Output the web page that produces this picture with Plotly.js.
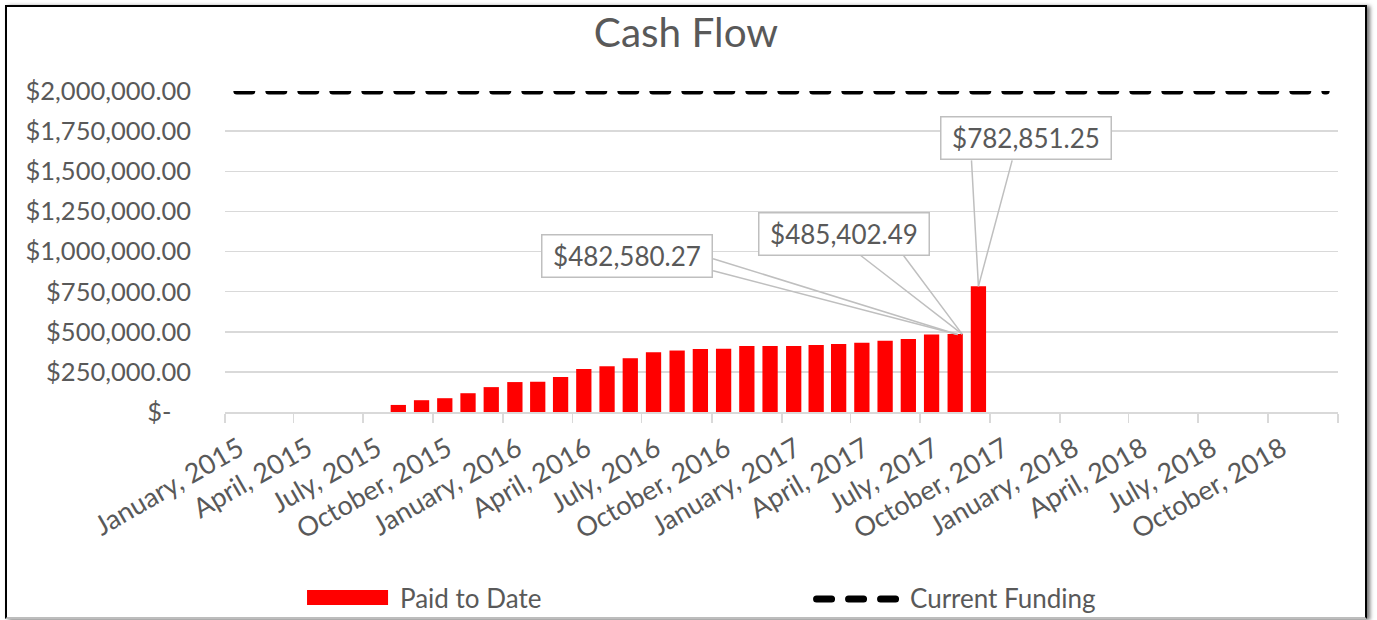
<!DOCTYPE html>
<html>
<head>
<meta charset="utf-8">
<script src="https://cdn.plot.ly/plotly-3.0.1.min.js"></script>
<style>
  html, body { margin: 0; padding: 0; background: #fff; overflow: hidden; }
  #wrap {
    position: absolute; left: 5px; top: 5px;
    width: 1358px; height: 610px;
    border-left: 2px solid #000; border-top: 2px solid #000; border-right: 2px solid #000;
    border-bottom: 2px solid #bdbdbd;
    box-shadow: 3px 1px 4px rgba(0,0,0,0.55);
    background: #fff;
  }
  #chart { width: 1358px; height: 610px; }
  .scatterlayer .js-line { stroke-linecap: round !important; }
  .shapelayer path { stroke-linecap: round !important; }
</style>
</head>
<body>
<div id="wrap"><div id="chart"></div></div>
<script>
// ---- data ----
const months = [
  "2015-08","2015-09","2015-10","2015-11","2015-12",
  "2016-01","2016-02","2016-03","2016-04","2016-05","2016-06",
  "2016-07","2016-08","2016-09","2016-10","2016-11","2016-12",
  "2017-01","2017-02","2017-03","2017-04","2017-05","2017-06",
  "2017-07","2017-08","2017-09"
];
const paidToDate = [
  44000, 73500, 86000, 117000, 155000,
  186500, 188500, 218000, 268000, 285000, 335000,
  373000, 383000, 392000, 394000, 411000, 411000,
  411000, 417000, 423000, 431000, 444000, 455000,
  482580.27, 485402.49, 782851.25
];
const fundingMonths = ["2015-01", "2018-12"];
const currentFunding = [2000000, 2000000];
const labelledMonths = ["2017-07", "2017-08", "2017-09"];

const xTickVals = [
  "2015-01-01","2015-04-01","2015-07-01","2015-10-01",
  "2016-01-01","2016-04-01","2016-07-01","2016-10-01",
  "2017-01-01","2017-04-01","2017-07-01","2017-10-01",
  "2018-01-01","2018-04-01","2018-07-01","2018-10-01","2019-01-01"
];
const xTickText = [
  "January, 2015","April, 2015","July, 2015","October, 2015",
  "January, 2016","April, 2016","July, 2016","October, 2016",
  "January, 2017","April, 2017","July, 2017","October, 2017",
  "January, 2018","April, 2018","July, 2018","October, 2018",""
];
const yTickVals = [0, 250000, 500000, 750000, 1000000, 1250000, 1500000, 1750000, 2000000];
const yTickText = [
  "$-\u00a0\u00a0\u00a0", "$250,000.00", "$500,000.00", "$750,000.00", "$1,000,000.00",
  "$1,250,000.00", "$1,500,000.00", "$1,750,000.00", "$2,000,000.00"
];

// ---- helpers ----
const FONT = "Lato, 'Open Sans', sans-serif";
const TXT = "#595959";
function midMonth(m) {
  const [y, mo] = m.split("-").map(Number);
  const a = Date.UTC(y, mo - 1, 1), b = Date.UTC(y, mo, 1);
  const d = new Date((a + b) / 2);
  const p = n => String(n).padStart(2, "0");
  return d.getUTCFullYear() + "-" + p(d.getUTCMonth() + 1) + "-" + p(d.getUTCDate()) +
    " " + p(d.getUTCHours()) + ":00:00";
}
function money(v) {
  return "$" + v.toLocaleString("en-US", {minimumFractionDigits: 2, maximumFractionDigits: 2});
}

const traces = [
  {
    type: "bar", name: "Paid to Date", x: months, y: paidToDate,
    xperiod: "M1", xperiodalignment: "middle",
    marker: {color: "#ff0000"}, hoverinfo: "x+y", showlegend: false
  },
  {
    type: "scatter", mode: "lines", name: "Current Funding",
    x: fundingMonths, y: currentFunding,
    xperiod: "M1", xperiodalignment: "middle",
    line: {color: "#000000", width: 7, dash: "15px,17px"},
    cliponaxis: false, showlegend: false
  }
];

// callouts: box offset from data point, tip shift, wedge tails relative to tip
const callout = [
  {box: [-305, -79], shift: 26, tails: [[-245, -76], [-245, -64]]},
  {box: [-111, -100], shift: 7, tails: [[-102, -79], [-59, -79]]},
  {box: [48, -148], shift: 0, tails: [[-7, -127], [34, -127]]}
];
const annotations = [];
labelledMonths.forEach((m, k) => {
  const i = months.indexOf(m);
  const xc = midMonth(m), yv = paidToDate[i];
  const c = callout[k];
  c.tails.forEach(t => annotations.push({
    x: xc, y: yv, xref: "x", yref: "y", text: " ", font: {size: 1},
    showarrow: true, arrowhead: 0, arrowwidth: 1.5, arrowcolor: "#bfbfbf",
    ax: t[0], ay: t[1], xshift: c.shift, standoff: 0, startstandoff: 0, borderpad: 0
  }));
});
labelledMonths.forEach((m, k) => {
  const i = months.indexOf(m);
  const c = callout[k];
  annotations.push({
    x: midMonth(m), y: paidToDate[i], xref: "x", yref: "y",
    text: money(paidToDate[i]), font: {family: FONT, size: 26, color: TXT},
    showarrow: true, arrowcolor: "rgba(0,0,0,0)", arrowwidth: 0.1, arrowhead: 0,
    ax: c.box[0], ay: c.box[1],
    bgcolor: "#ffffff", bordercolor: "#bfbfbf", borderwidth: 1.5, borderpad: 0,
    width: 169, height: 41
  });
});
// legend texts
annotations.push({
  xref: "paper", yref: "paper", x: 0.1554, y: -0.5794, xanchor: "left", yanchor: "middle",
  text: "Paid to Date", showarrow: false, font: {family: FONT, size: 26, color: TXT}
});
annotations.push({
  xref: "paper", yref: "paper", x: 0.6137, y: -0.5794, xanchor: "left", yanchor: "middle",
  text: "Current Funding", showarrow: false, font: {family: FONT, size: 26, color: TXT}
});

const shapes = [
  {type: "rect", xref: "paper", yref: "paper", x0: 0.0737, x1: 0.1465, y0: -0.5545, y1: -0.6012,
   fillcolor: "#ff0000", line: {width: 0}},
  {type: "line", xref: "paper", yref: "paper", x0: 0.5315, x1: 0.6052, y0: -0.5826, y1: -0.5826,
   line: {color: "#000000", width: 7, dash: "15px,17px"}}
];

const layout = {
  width: 1358, height: 610,
  margin: {l: 218, r: 27, t: 84, b: 205, pad: 0},
  paper_bgcolor: "#ffffff", plot_bgcolor: "#ffffff",
  font: {family: FONT, color: TXT},
  title: {text: "Cash Flow", font: {family: FONT, size: 40.5, color: TXT},
          x: 0.5, xref: "container", y: 0.958, yref: "container", yanchor: "middle"},
  bargap: 0.32,
  showlegend: false,
  xaxis: {
    type: "date", range: ["2015-01-01", "2019-01-01"],
    tickmode: "array", tickvals: xTickVals, ticktext: xTickText,
    tickangle: -30, tickfont: {family: FONT, size: 27, color: TXT},
    ticks: "outside", ticklen: 9, tickwidth: 1.5, tickcolor: "#d9d9d9",
    ticklabelshift: 14, ticklabelstandoff: 0,
    showline: true, linecolor: "#d9d9d9", linewidth: 1.5,
    showgrid: false, zeroline: false, fixedrange: true
  },
  yaxis: {
    range: [0, 2000000], tickmode: "array", tickvals: yTickVals, ticktext: yTickText,
    tickfont: {family: FONT, size: 25.5, color: TXT},
    showgrid: true, gridcolor: "#d9d9d9", gridwidth: 1.5,
    zeroline: false, showline: false, ticks: "", ticklabelstandoff: 33, fixedrange: true
  },
  annotations: annotations,
  shapes: shapes
};

Plotly.newPlot("chart", traces, layout, {displayModeBar: false, staticPlot: true});
</script>
</body>
</html>
